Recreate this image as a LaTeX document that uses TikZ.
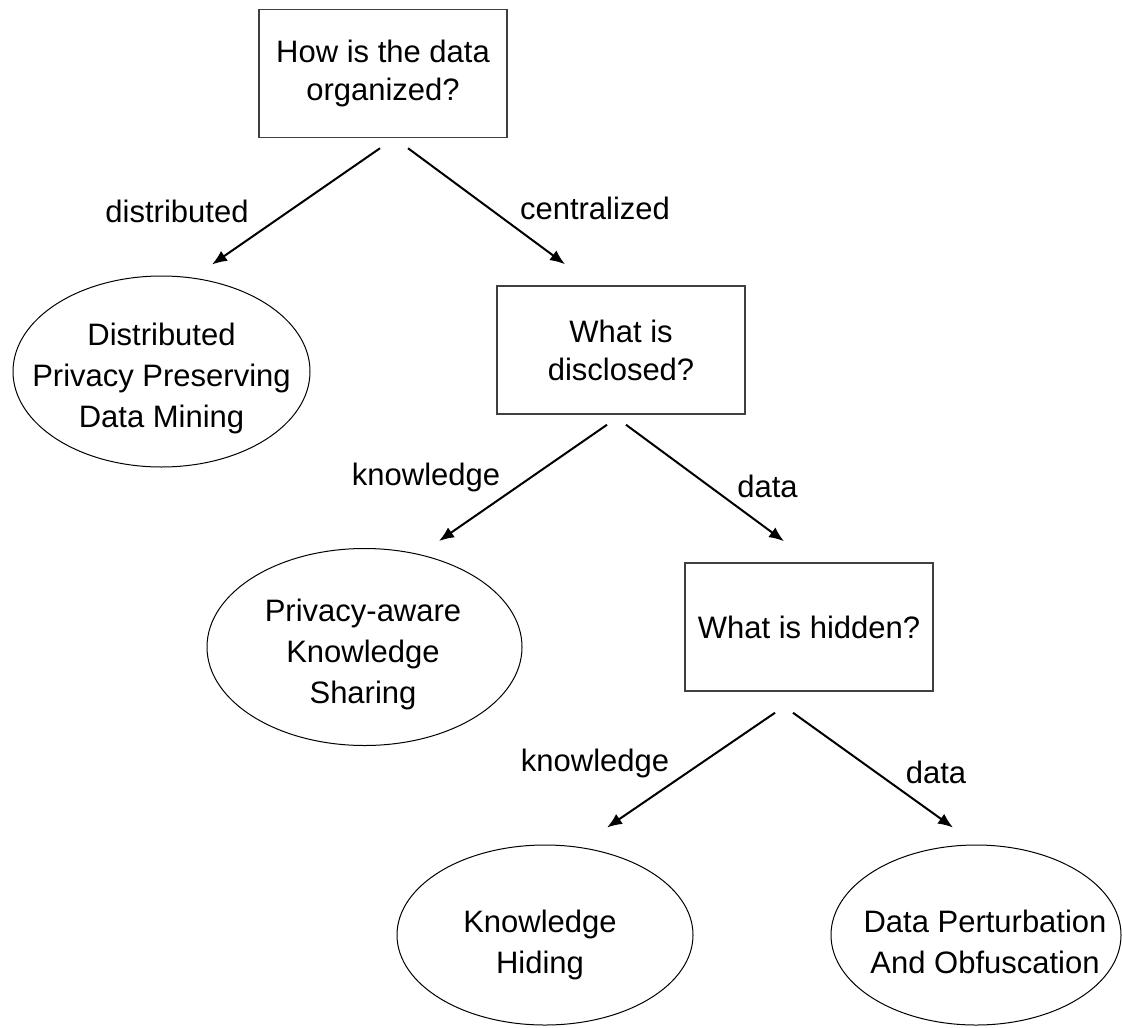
\documentclass[tikz,border=0pt]{standalone}
\usepackage{fontspec}
\setmainfont{Liberation Sans}
\usetikzlibrary{positioning}
\usetikzlibrary{shapes.geometric, arrows.meta}
\tikzstyle{arrow} = [line width=1pt,-{Latex[length=7.5pt,width=6pt]}]
\tikzstyle{question} = [rectangle, draw=black!75, line width=0.75pt, minimum width=124pt, minimum height=64pt, align=center, font=\fontsize{15.5}{19}\selectfont]
\tikzstyle{leaf} = [ellipse, draw, line width=0.5pt, inner sep=0pt]
\tikzstyle{leaftext} = [align=center, font=\fontsize{15.5}{20.5}\selectfont]
\tikzstyle{edgelabel} = [anchor=base, inner sep=0pt, font=\fontsize{15.5}{19}\selectfont]

\begin{document}
\begin{tikzpicture}[x=0.5pt,y=-0.5pt]
	\useasboundingbox (0,0) rectangle (1122,1027);
	% questions
	\node[question] (organized) at (383,73.5) {How is the data\\organized?};
	\node[question] (disclosed) at (621,350) {What is\\disclosed?};
	\node[question] (hidden) at (809,627) {What is hidden?};
	% answers
	\node[leaf,minimum width=148.5pt,minimum height=95.5pt] (dppdm) at (161.5,371.5) {};
	\node[leaftext] (dppdm text) at (161.5,378) {Distributed\\Privacy Preserving\\Data Mining};
	\node[leaf,minimum width=157.5pt,minimum height=98.5pt] (sharing) at (364.5,647) {};
	\node[leaftext] (sharing text) at (363,654) {Privacy-aware\\Knowledge\\Sharing};
	\node[leaf,minimum width=148pt,minimum height=90pt] (hiding) at (545,935) {};
	\node[leaftext] (hiding text) at (540,945) {Knowledge\\Hiding};
	\node[leaf,minimum width=145pt,minimum height=90pt] (perturb) at (976,935) {};
	\node[leaftext] (perturb text) at (985,942) {Data Perturbation\\And Obfuscation};
	% edges
	\draw[arrow] ([shift={(-3,10)}]organized.south) -- ([shift={(50.5,-11)}]dppdm.north);
	\draw[arrow] ([shift={(25,10)}]organized.south) -- ([shift={(-56,-21)}]disclosed.north);
	\draw[arrow] ([shift={(-14,10)}]disclosed.south) -- ([shift={(74.5,-7)}]sharing.north);
	\draw[arrow] ([shift={(5,10)}]disclosed.south) -- ([shift={(-25,-21)}]hidden.north);
	\draw[arrow] ([shift={(-34,21)}]hidden.south) -- ([shift={(62,-17)}]hiding.north);
	\draw[arrow] ([shift={(-16,21)}]hidden.south) -- ([shift={(-23,-17)}]perturb.north);
	% edge labels
	\node[edgelabel] (distributed) at (177,222) {distributed};
	\node[edgelabel] (centralized) at (595,220) {centralized};
	\node[edgelabel] (knowledge a) at (426,485) {knowledge};
	\node[edgelabel] (data a) at (767.5,497) {data};
	\node[edgelabel] (knowledge b) at (595,771) {knowledge};
	\node[edgelabel] (data b) at (936,783) {data};
\end{tikzpicture}
\end{document}
